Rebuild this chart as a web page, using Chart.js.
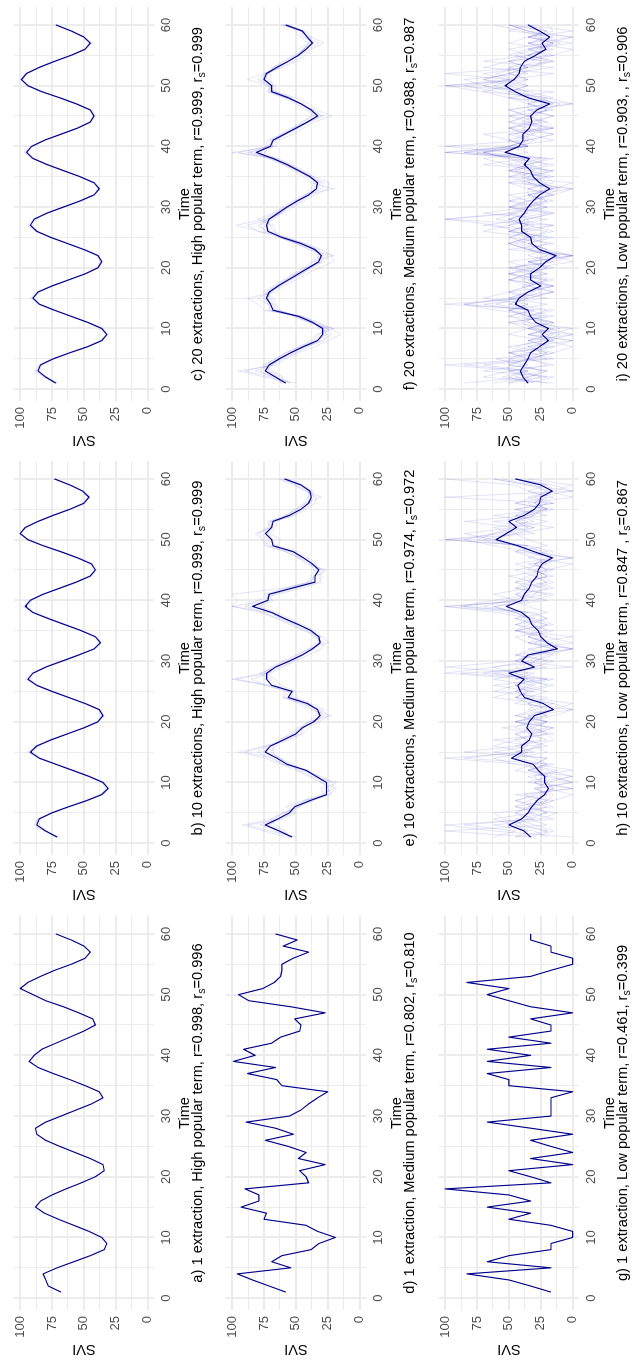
<!DOCTYPE html>
<html>
<head>
<meta charset="utf-8">
<script src="https://cdn.jsdelivr.net/npm/chart.js@4.4.1/dist/chart.umd.min.js"></script>
<style>
  html, body { margin: 0; padding: 0; background: #fff; }
  body { width: 637px; height: 1364px; overflow: hidden; position: relative; }
  /* the 3x3 figure is laid out landscape and turned a quarter turn */
  #figure { position: absolute; left: 0; top: 0; width: 1364px; height: 637px;
            transform-origin: 0 0; transform: translate(0px, 1364px) rotate(-90deg); background: #fff; }
  .cell { position: absolute; width: 455px; height: 212px; }
  .cell canvas { display: block; }
</style>
</head>
<body>
<div id="figure"></div>
<script>
// ---- time axis ----
const timeSteps = [1,2,3,4,5,6,7,8,9,10,11,12,13,14,15,16,17,18,19,20,21,22,23,24,25,26,27,28,29,30,
                   31,32,33,34,35,36,37,38,39,40,41,42,43,44,45,46,47,48,49,50,51,52,53,54,55,56,57,58,59,60];
const timeLabels = [0, 10, 20, 30, 40, 50, 60];
const timeGrid = [0, 5, 10, 15, 20, 25, 30, 35, 40, 45, 50, 55, 60];
const sviLabels = [0, 25, 50, 75, 100];
const sviGrid = [0, 12.5, 25, 37.5, 50, 62.5, 75, 87.5, 100];

// ---- mean SVI per panel ----
const sviA = [68,78,80,82,71,58,45,34,32,36,46,58,70,81,88,84,75,64,52,41,34,35,45,57,69,80,87,88,80,68,
              56,44,35,38,49,61,74,86,93,89,83,72,61,50,41,43,54,66,80,90,100,94,84,73,60,49,45,50,60,72];
const sviB = [71,80,87,85,75,62,48,36,31,35,46,59,72,85,92,87,76,63,50,39,35,38,49,62,75,87,94,90,80,67,
              54,42,37,41,52,65,78,90,96,92,82,69,56,45,41,44,55,68,82,94,100,96,86,74,61,50,46,51,61,73];
const sviC = [72,80,86,84,74,61,47,36,32,36,47,60,73,85,90,86,75,62,49,39,36,39,50,63,76,87,92,89,79,66,
              53,42,38,42,53,66,79,90,95,91,81,68,55,45,42,45,56,69,83,94,99,95,85,73,60,49,45,50,60,72];
const sviD = [58,71,84,96,54,69,61,38,32,19,33,42,75,73,93,79,79,90,40,42,47,27,48,42,56,74,52,66,89,55,
              46,40,33,25,61,65,88,66,99,82,91,69,62,47,46,51,27,54,87,95,76,67,62,61,61,52,40,60,49,66];
const sviE = [53,63,74,64,55,51,39,26,26,26,34,42,57,65,74,70,60,50,45,36,31,33,41,56,53,69,73,73,66,55,
              45,37,31,32,38,48,59,69,84,72,71,53,35,35,32,37,44,52,68,69,74,69,68,55,46,40,38,39,46,59];
const sviF = [58,66,74,71,63,54,44,33,29,29,37,48,68,70,73,71,64,56,48,40,32,30,35,46,61,72,73,71,64,57,
              49,40,34,33,39,48,57,68,81,70,68,59,50,41,33,38,46,56,69,69,75,73,65,56,48,42,37,41,45,58];
const sviG = [17,33,50,83,17,67,50,17,17,0,0,17,50,33,67,33,50,100,17,33,50,0,33,0,17,33,0,33,67,17,
              17,17,17,0,50,50,67,17,67,33,67,17,50,17,17,33,0,33,50,67,50,83,33,17,0,0,17,17,33,33];
const sviH = [33,38,50,40,35,32,28,22,19,22,22,27,31,48,40,40,34,32,36,34,30,15,23,38,41,43,38,50,30,40,
              35,12,20,25,27,32,34,40,52,40,38,34,32,28,27,24,16,30,43,60,52,44,50,38,30,26,25,16,25,45];
const sviI = [35,39,41,38,35,33,26,19,24,19,29,33,35,45,42,35,25,33,33,26,21,13,26,32,33,40,40,42,38,35,
              31,26,18,26,31,33,38,34,53,42,39,39,34,32,33,28,18,35,45,53,46,42,41,38,29,21,24,18,26,35];

// ---- single extractions (faint lines) ----
const extractB = [
  [70,82,89,86,76,63,49,37,33,36,47,60,73,86,94,88,77,64,51,40,36,39,50,63,76,88,96,91,81,68,55,43,38,42,53,66,79,91,98,93,83,70,57,46,42,45,56,69,83,95,100,97,87,75,62,51,47,52,62,74],
  [72,79,85,84,74,61,47,35,30,34,45,58,71,84,90,86,75,62,49,38,34,37,48,61,74,86,92,89,79,66,53,41,36,40,51,64,77,89,94,91,81,68,55,44,40,43,54,67,81,93,99,95,85,73,60,49,45,50,60,72],
  [69,81,88,86,75,62,48,37,32,35,46,59,72,85,93,88,76,63,50,39,36,38,49,62,75,87,93,90,80,67,54,42,37,41,52,65,78,90,97,92,82,69,56,45,41,44,55,68,82,94,100,96,86,74,61,50,46,51,61,73]
];
const extractC = [
  [71,81,88,85,75,62,48,37,33,37,48,61,74,86,92,87,76,63,50,40,37,40,51,64,77,88,94,90,80,67,54,43,39,43,54,67,80,91,97,92,82,69,56,46,43,46,57,70,84,95,100,96,86,74,61,50,46,51,61,73],
  [73,79,85,83,73,60,46,35,31,35,46,59,72,84,89,85,74,61,48,38,35,38,49,62,75,86,91,88,78,65,52,41,37,41,52,65,78,89,94,90,80,67,54,44,41,44,55,68,82,93,98,94,84,72,59,48,44,49,59,71],
  [70,82,87,85,74,61,47,36,32,36,47,60,73,85,91,86,75,62,49,39,36,39,50,63,76,87,93,89,79,66,53,42,38,42,53,66,79,90,96,91,81,68,55,45,42,45,56,69,83,94,99,95,85,73,60,49,45,50,60,72]
];
const extractE = [
  [50,70,88,60,50,58,45,30,20,22,30,45,60,70,80,72,55,45,40,32,25,30,45,60,55,75,85,70,60,50,40,30,28,35,42,55,65,75,90,80,65,45,30,32,28,40,48,58,72,75,80,72,70,50,42,35,34,42,50,62],
  [56,58,66,70,60,48,36,28,30,24,38,48,55,62,70,66,62,55,48,40,35,28,38,50,50,62,66,75,70,60,50,40,35,30,35,45,55,65,80,68,75,58,40,38,35,34,40,48,65,62,70,66,64,58,50,44,40,36,44,56],
  [52,62,78,66,58,50,40,22,25,30,32,40,60,68,90,72,58,46,44,38,30,36,44,58,52,70,97,72,62,52,44,36,30,33,40,50,62,70,100,70,68,50,32,30,36,38,46,55,70,72,78,70,66,52,44,38,38,40,48,60],
  [54,66,72,62,52,54,42,26,28,18,36,44,52,64,68,68,64,52,46,34,32,34,42,52,56,66,70,78,66,56,46,38,31,34,38,48,60,72,78,74,70,55,38,36,30,36,46,52,66,70,72,68,70,56,48,42,36,38,46,58],
  [53,60,70,64,56,50,38,26,24,28,34,42,58,62,76,70,60,50,44,36,28,32,40,54,52,68,74,72,66,56,46,38,32,32,38,48,58,68,86,72,72,56,36,36,32,38,44,52,68,68,72,70,68,56,46,40,40,40,46,58],
  [58,75,92,68,60,46,44,24,18,30,40,50,62,74,95,74,60,52,46,40,22,38,48,60,58,72,100,76,68,58,48,40,24,30,44,52,64,78,100,96,100,60,40,34,26,42,48,58,74,76,82,70,72,58,50,42,30,42,52,64]
];
const extractF = [
  [60,70,90,68,60,50,40,30,22,25,40,50,70,72,80,70,62,55,45,38,28,25,38,50,62,80,88,70,62,55,46,38,30,28,42,48,60,70,95,72,66,58,50,40,28,40,44,58,72,70,80,74,62,52,46,40,32,44,46,60],
  [55,62,70,76,66,58,46,36,32,24,34,46,64,68,70,74,66,58,50,42,36,32,32,44,58,68,70,76,66,58,50,42,38,36,36,46,56,66,75,68,70,60,52,44,38,36,48,54,66,66,72,74,68,58,50,44,40,38,46,56],
  [58,68,78,70,62,52,44,28,26,30,36,48,72,68,76,70,62,54,46,38,30,28,36,46,60,74,78,70,64,56,48,40,32,35,38,50,58,68,88,70,66,58,48,42,32,38,46,56,70,72,78,72,64,56,48,42,36,42,44,58],
  [62,64,72,72,64,56,44,34,30,26,38,50,66,72,74,70,64,58,50,40,34,30,34,48,62,70,74,68,62,56,50,40,36,32,40,48,56,70,82,72,68,60,50,40,34,40,46,58,68,68,76,74,66,56,48,44,38,42,46,58],
  [54,66,82,70,62,54,42,32,28,32,36,46,68,70,72,72,66,56,48,42,30,34,36,46,60,72,80,72,66,58,48,40,34,30,38,48,58,66,86,68,70,60,52,42,30,36,46,54,70,70,74,72,66,56,50,44,36,40,46,60],
  [58,66,74,68,64,54,46,34,26,28,36,48,66,70,72,70,64,56,48,40,32,32,36,48,62,72,72,72,64,58,50,42,34,34,38,46,56,68,80,70,68,58,48,40,32,38,46,56,68,70,76,72,64,56,48,44,38,42,44,58],
  [50,75,95,65,58,48,35,25,15,22,32,45,75,80,88,66,60,50,42,32,20,22,30,42,58,78,97,74,60,52,44,35,25,24,36,44,54,64,100,66,64,52,44,36,22,34,40,50,66,72,88,76,60,50,42,38,28,38,42,62],
  [62,60,68,74,66,58,48,38,34,20,40,52,62,66,68,76,68,60,52,44,38,20,40,50,64,66,68,80,68,60,52,44,20,38,44,52,60,72,78,74,72,62,54,46,36,42,50,60,72,68,70,70,68,60,52,48,40,46,50,56]
];
const extractH = [
  [0,62,100,25,12,45,20,38,0,25,30,12,40,100,30,45,25,28,55,20,35,0,15,45,30,62,20,88,0,45,30,0,20,35,15,45,30,60,100,35,45,15,30,50,20,30,0,45,35,100,55,30,62,20,45,15,30,0,35,62],
  [45,20,38,55,62,15,30,20,28,0,20,45,30,20,62,35,45,30,15,45,20,30,35,20,62,45,35,100,62,20,45,15,35,0,45,20,45,35,70,50,20,45,35,20,30,45,15,35,62,85,62,45,35,62,20,30,20,35,20,45],
  [30,100,20,35,45,30,15,0,20,30,0,35,20,30,45,20,35,45,30,20,45,15,0,35,45,30,62,35,45,30,15,35,0,20,30,45,20,35,88,62,30,20,45,35,20,0,35,20,45,62,85,45,20,45,30,20,35,15,0,35],
  [20,30,62,15,35,20,45,30,15,20,35,0,30,20,85,45,20,35,15,45,30,20,35,45,35,15,45,30,100,45,30,15,35,45,20,30,45,20,35,45,62,35,20,30,45,20,30,45,20,35,45,62,30,45,20,45,15,35,45,100],
  [45,35,45,62,30,45,35,20,30,0,15,35,20,45,35,62,45,20,45,35,15,0,45,35,20,45,30,62,20,45,35,0,30,20,45,15,30,45,62,20,45,35,45,15,35,30,20,15,35,100,30,45,85,35,15,45,30,20,35,62],
  [35,15,30,45,20,35,15,45,0,35,20,30,35,45,20,30,62,15,35,20,45,30,15,45,35,45,20,45,30,15,45,30,15,35,30,20,35,45,100,30,15,45,20,30,15,35,0,30,45,62,45,15,45,30,45,15,100,0,15,45],
  [62,45,85,30,45,35,20,15,30,20,0,20,45,62,35,30,15,20,30,45,20,35,25,62,45,35,15,70,35,30,20,0,35,25,45,35,20,30,85,45,35,30,15,25,20,30,15,35,45,75,62,35,45,30,25,35,0,20,30,55],
  [25,20,45,35,20,30,45,25,15,30,20,35,15,85,45,25,35,45,20,30,35,15,35,30,45,20,35,45,62,35,25,15,20,35,25,30,35,45,62,35,30,25,35,20,30,20,15,25,35,70,45,30,45,35,20,30,25,15,20,45]
];
const extractI = [
  [20,55,35,70,15,35,50,20,0,35,15,50,30,85,50,15,35,20,50,30,0,15,35,50,30,70,50,35,15,50,35,15,0,50,35,15,70,35,100,50,35,15,50,30,15,35,0,50,70,100,35,50,15,70,35,15,35,0,50,35],
  [35,15,70,35,50,20,35,0,35,15,50,20,50,35,70,50,15,50,35,20,35,0,50,15,50,35,15,100,50,20,35,50,15,0,50,35,15,50,70,35,50,70,20,35,50,15,35,20,50,70,85,35,50,35,15,35,0,35,20,50],
  [50,35,20,50,35,50,15,35,20,0,35,35,20,100,35,15,35,50,20,50,15,35,20,35,15,50,35,50,35,50,20,35,35,15,20,50,35,15,85,50,15,35,50,20,35,50,15,35,35,50,70,50,35,20,50,35,15,35,0,35],
  [15,70,50,20,35,15,0,20,50,35,15,35,50,20,50,35,15,35,50,35,20,15,35,50,35,20,70,35,15,35,50,15,35,50,15,35,50,70,35,50,35,15,35,50,35,20,35,50,15,100,50,15,70,50,15,0,35,20,35,50],
  [35,50,35,85,20,50,35,15,20,35,50,15,35,70,20,50,35,15,35,20,35,0,20,35,50,35,50,20,70,35,15,35,0,35,50,20,35,50,70,35,50,50,15,35,35,50,20,50,50,35,50,70,35,50,35,20,50,35,15,20],
  [50,20,50,50,35,15,35,35,0,20,35,50,35,50,35,15,20,50,35,50,15,0,35,20,35,50,15,50,35,20,50,35,15,35,35,50,20,35,50,100,35,50,15,20,50,35,0,20,70,50,35,50,35,15,35,50,20,0,35,50],
  [35,35,20,50,50,35,15,0,35,20,15,35,50,35,50,35,15,35,20,35,50,15,20,35,20,50,35,50,20,50,35,15,35,20,35,15,50,35,85,35,50,35,50,35,15,35,35,15,35,70,50,100,35,50,20,35,15,35,20,35],
  [85,35,50,15,35,50,20,35,15,35,20,35,15,50,35,50,35,20,50,15,35,20,35,50,35,15,35,35,50,35,20,35,15,35,20,50,35,20,70,50,35,35,15,50,35,20,35,35,50,35,70,50,50,15,35,20,35,15,35,50],
  [62,25,40,100,30,20,45,25,10,30,40,25,60,85,40,25,30,40,25,45,30,10,25,40,30,45,60,100,40,25,30,20,10,25,40,30,45,25,100,40,30,45,25,40,30,20,10,30,60,85,45,40,30,25,45,30,10,25,40,62],
  [30,45,25,40,60,25,30,15,35,10,25,40,35,60,45,30,40,25,35,30,25,0,30,45,25,40,30,60,45,35,25,30,20,40,25,45,30,40,75,35,45,30,40,25,35,30,15,25,45,62,45,60,40,30,35,25,15,30,25,45]
];

// ---- panel captions (text before the subscript, and after it) ----
const captionHead = [
  "a) 1 extraction, High popular term, r=0.998, r",
  "b) 10 extractions, High popular term, r=0.999, r",
  "c) 20 extractions, High popular term, r=0.999, r",
  "d) 1 extraction, Medium popular term, r=0.802, r",
  "e) 10 extractions, Medium popular term, r=0.974, r",
  "f) 20 extractions, Medium popular term, r=0.988, r",
  "g) 1 extraction, Low popular term, r=0.461, r",
  "h) 10 extractions, Low popular term, r=0.847 , r",
  "i) 20 extractions, Low popular term, r=0.903, , r"
];
const captionTail = ["=0.996", "=0.999", "=0.999", "=0.810", "=0.972", "=0.987", "=0.399", "=0.867", "=0.906"];

const meanSeries = [sviA, sviB, sviC, sviD, sviE, sviF, sviG, sviH, sviI];
const extractSeries = [[], extractB, extractC, [], extractE, extractF, [], extractH, extractI];

// ---- drawing ----
const FONT = '"Liberation Sans", Arial, Helvetica, sans-serif';
const TICK_SIZE = 13;
const CELL_W = 455, CELL_H = 212;
const cellLeft = [0, 455, 909];
const cellTop = [0, 212, 425];

const toPoints = vals => vals.map((v, i) => ({ x: timeSteps[i], y: v }));

const captionPlugin = {
  id: 'panelText',
  afterDraw(chart, args, opts) {
    const { ctx, chartArea } = chart;
    const cx = (chartArea.left + chartArea.right) / 2;
    const big = '14.67px ' + FONT, small = '10.6px ' + FONT;
    ctx.save();
    ctx.fillStyle = '#000';
    ctx.textBaseline = 'alphabetic';
    ctx.font = big;
    ctx.textAlign = 'center';
    ctx.fillText('Time', cx, 188.5);
    ctx.textAlign = 'left';
    const w1 = ctx.measureText(opts.head).width;
    const w3 = ctx.measureText(opts.tail).width;
    ctx.font = small;
    const w2 = ctx.measureText('s').width;
    let x = cx - (w1 + w2 + w3) / 2;
    const base = 201.8;
    ctx.font = big;  ctx.fillText(opts.head, x, base); x += w1;
    ctx.font = small; ctx.fillText('s', x, base + 3); x += w2;
    ctx.font = big;  ctx.fillText(opts.tail, x, base);
    ctx.translate(14.7, (chartArea.top + chartArea.bottom) / 2);
    ctx.rotate(-Math.PI / 2);
    ctx.textAlign = 'center';
    ctx.textBaseline = 'middle';
    ctx.font = big;
    ctx.fillText('SVI', 0, 0);
    ctx.restore();
  }
};

const fig = document.getElementById('figure');

meanSeries.forEach((mean, p) => {
  const row = Math.floor(p / 3), col = p % 3;
  const cell = document.createElement('div');
  cell.className = 'cell';
  cell.style.left = cellLeft[col] + 'px';
  cell.style.top = cellTop[row] + 'px';
  const canvas = document.createElement('canvas');
  canvas.width = CELL_W; canvas.height = CELL_H;
  canvas.style.width = CELL_W + 'px'; canvas.style.height = CELL_H + 'px';
  cell.appendChild(canvas);
  fig.appendChild(cell);

  const noisy = row > 0;
  const datasets = [{
    data: toPoints(mean), borderColor: '#00008B', borderWidth: 1.15,
    pointRadius: 0, tension: 0, fill: false, order: 0,
    borderJoinStyle: 'round'
  }];
  extractSeries[p].forEach(vals => datasets.push({
    data: toPoints(vals),
    borderColor: noisy ? 'rgba(50,50,200,0.13)' : 'rgba(50,50,200,0.12)',
    borderWidth: 1, pointRadius: 0, tension: 0, fill: false, order: 1,
    borderJoinStyle: 'round'
  }));

  new Chart(canvas, {
    type: 'line',
    data: { datasets },
    plugins: [captionPlugin],
    options: {
      responsive: false, animation: false, devicePixelRatio: 1, events: [],
      layout: { padding: { left: 0, right: 7, top: 7, bottom: 0 } },
      plugins: {
        legend: { display: false }, tooltip: { enabled: false },
        panelText: { head: captionHead[p], tail: captionTail[p] }
      },
      scales: {
        x: {
          type: 'linear', min: -1.95, max: 62.95,
          afterBuildTicks: s => { s.ticks = timeGrid.map(v => ({ value: v })); },
          afterFit: s => { s.height = 58; },
          grid: {
            color: '#EBEBEB', drawTicks: false,
            lineWidth: c => (c.tick && timeLabels.includes(c.tick.value)) ? 1.9 : 0.95
          },
          border: { display: false },
          ticks: {
            autoSkip: false, maxRotation: 0, minRotation: 0, padding: 5,
            color: '#4D4D4D', font: { family: FONT, size: TICK_SIZE },
            callback: v => timeLabels.includes(v) ? String(v) : ''
          }
        },
        y: {
          type: 'linear', min: -5, max: 105,
          afterBuildTicks: s => { s.ticks = sviGrid.map(v => ({ value: v })); },
          afterFit: s => { s.width = 54; },
          grid: {
            color: '#EBEBEB', drawTicks: false,
            lineWidth: c => (c.tick && sviLabels.includes(c.tick.value)) ? 1.9 : 0.95
          },
          border: { display: false },
          ticks: {
            autoSkip: false, padding: 6,
            color: '#4D4D4D', font: { family: FONT, size: TICK_SIZE },
            callback: v => sviLabels.includes(v) ? String(v) : ''
          }
        }
      }
    }
  });
});
</script>
</body>
</html>
